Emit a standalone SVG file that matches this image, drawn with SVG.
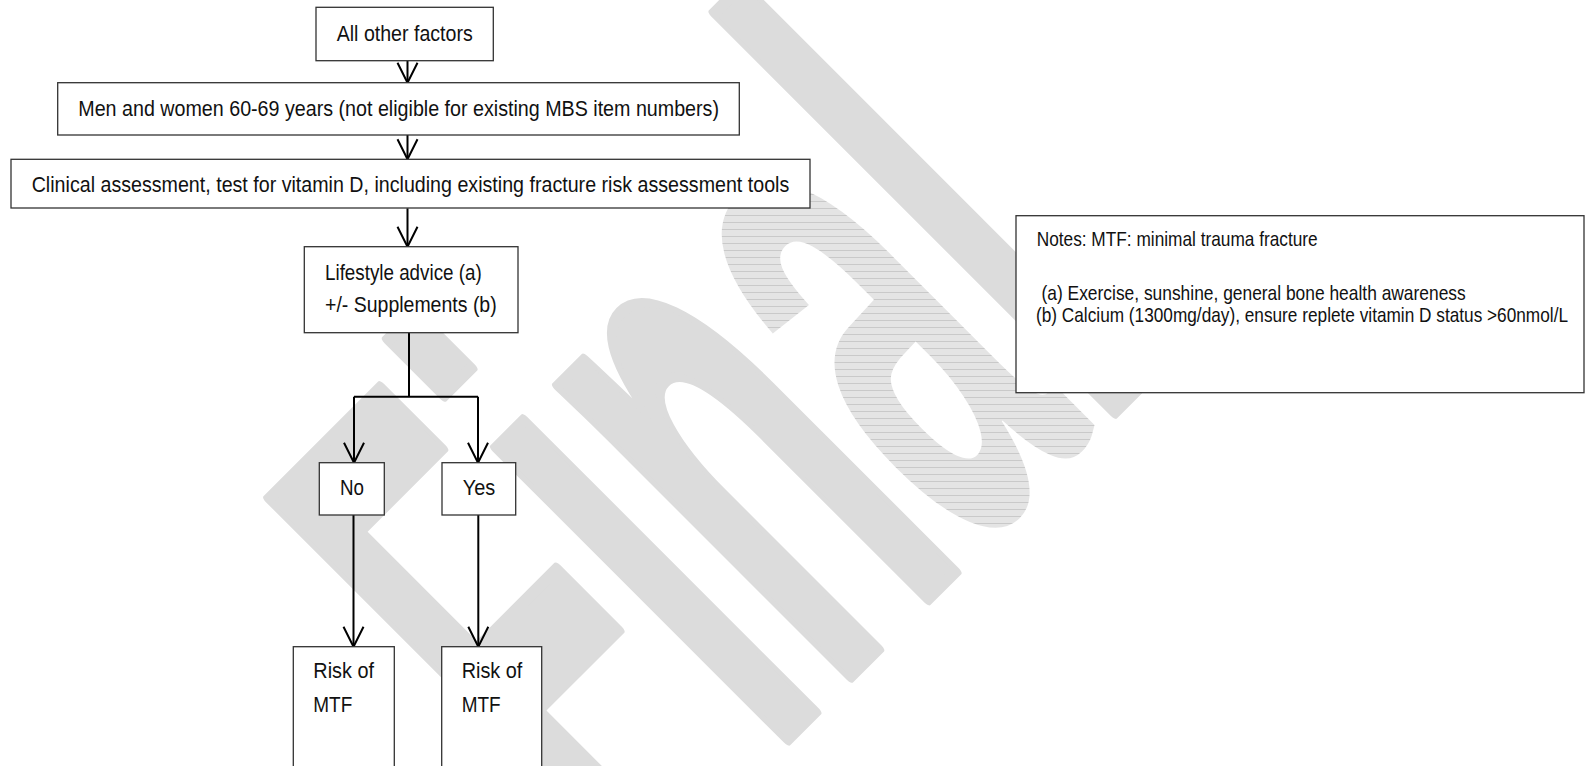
<svg xmlns="http://www.w3.org/2000/svg" width="1585" height="766" viewBox="0 0 1585 766">
  <defs>
    <style>
      .box { fill: #ffffff; stroke: #333333; stroke-width: 1.3; }
      .t { font-family: "Liberation Sans", Arial, sans-serif; font-size: 22px; fill: #111111; }
      .n { font-family: "Liberation Sans", Arial, sans-serif; font-size: 21px; fill: #111111; }
      .c { fill: none; stroke: #000000; stroke-width: 2; }
      .wm { font-family: "Liberation Sans", Arial, sans-serif; font-weight: bold; font-size: 780px; fill: #dcdcdc; stroke: #dcdcdc; stroke-width: 12; stroke-linejoin: round; }
    </style>
    <marker id="arr" markerUnits="userSpaceOnUse" markerWidth="26" markerHeight="26" viewBox="-23 -13 26 26" refX="0" refY="0" orient="auto">
      <path d="M-20,-10 L0,0 L-20,10" fill="none" stroke="#000000" stroke-width="2"/>
    </marker>
    <pattern id="hatch" patternUnits="userSpaceOnUse" width="20" height="7" patternTransform="scale(2.439,1) rotate(45)">
      <rect width="20" height="7" fill="#e4e4e4"/>
      <rect y="6" width="20" height="1" fill="#c9c9c9"/>
    </pattern>
  </defs>
  <rect width="1585" height="766" fill="#ffffff"/>

  <g id="watermark">
    <text class="wm" transform="translate(632,895) rotate(-45) scale(0.41,1)" x="0" y="0">Fin<tspan fill="url(#hatch)" stroke="none">a</tspan>l</text>
  </g>

  <g id="connectors">
    <path class="c" d="M407.5,61 V82.7" marker-end="url(#arr)"/>
    <path class="c" d="M407.5,135 V159.3" marker-end="url(#arr)"/>
    <path class="c" d="M407.5,208.3 V246.7" marker-end="url(#arr)"/>
    <path class="c" d="M409,332.7 V396.7"/>
    <path class="c" d="M354,396.7 H478" stroke-width="3"/>
    <path class="c" d="M354,396.7 V462.7" marker-end="url(#arr)"/>
    <path class="c" d="M478,396.7 V462.7" marker-end="url(#arr)"/>
    <path class="c" d="M353.5,515 V646.7" marker-end="url(#arr)"/>
    <path class="c" d="M478.3,515 V646.7" marker-end="url(#arr)"/>
  </g>

  <g id="all-other-factors">
    <rect class="box" x="316" y="7.3" width="177.3" height="53.4"/>
    <text class="t" x="336.7" y="41" textLength="136" lengthAdjust="spacingAndGlyphs">All other factors</text>
  </g>

  <g id="men-women">
    <rect class="box" x="57.7" y="82.7" width="681.6" height="52.3"/>
    <text class="t" x="78.3" y="116" textLength="640.7" lengthAdjust="spacingAndGlyphs">Men and women 60-69 years (not eligible for existing MBS item numbers)</text>
  </g>

  <g id="clinical-assessment">
    <rect class="box" x="11" y="159.3" width="799" height="48.7"/>
    <text class="t" x="31.7" y="191.5" textLength="757.6" lengthAdjust="spacingAndGlyphs">Clinical assessment, test for vitamin D, including existing fracture risk assessment tools</text>
  </g>

  <g id="lifestyle">
    <rect class="box" x="304.3" y="246.7" width="213.7" height="86"/>
    <text class="t" x="325" y="280" textLength="156.7" lengthAdjust="spacingAndGlyphs">Lifestyle advice (a)</text>
    <text class="t" x="325" y="311.7" textLength="171.7" lengthAdjust="spacingAndGlyphs">+/- Supplements (b)</text>
  </g>

  <g id="no">
    <rect class="box" x="319.3" y="462.7" width="65" height="52.3"/>
    <text class="t" x="340" y="495" textLength="24" lengthAdjust="spacingAndGlyphs">No</text>
  </g>

  <g id="yes">
    <rect class="box" x="442" y="462.7" width="73.7" height="52.3"/>
    <text class="t" x="462.7" y="495" textLength="32.5" lengthAdjust="spacingAndGlyphs">Yes</text>
  </g>

  <g id="risk-no">
    <rect class="box" x="293.3" y="646.7" width="101" height="130"/>
    <text class="t" x="313.3" y="678" textLength="60.7" lengthAdjust="spacingAndGlyphs">Risk of</text>
    <text class="t" x="313.3" y="711.7" textLength="39" lengthAdjust="spacingAndGlyphs">MTF</text>
  </g>

  <g id="risk-yes">
    <rect class="box" x="441.7" y="646.7" width="100" height="130"/>
    <text class="t" x="461.7" y="678" textLength="60.7" lengthAdjust="spacingAndGlyphs">Risk of</text>
    <text class="t" x="461.7" y="711.7" textLength="39" lengthAdjust="spacingAndGlyphs">MTF</text>
  </g>

  <g id="notes">
    <rect class="box" x="1016" y="215.7" width="568" height="177"/>
    <text class="n" x="1036.7" y="246" textLength="281" lengthAdjust="spacingAndGlyphs">Notes: MTF: minimal trauma fracture</text>
    <text class="n" x="1036.7" y="300" textLength="429" lengthAdjust="spacingAndGlyphs" style="white-space:pre"> (a) Exercise, sunshine, general bone health awareness</text>
    <text class="n" x="1036" y="321.7" textLength="532" lengthAdjust="spacingAndGlyphs">(b) Calcium (1300mg/day), ensure replete vitamin D status &gt;60nmol/L</text>
  </g>
</svg>
